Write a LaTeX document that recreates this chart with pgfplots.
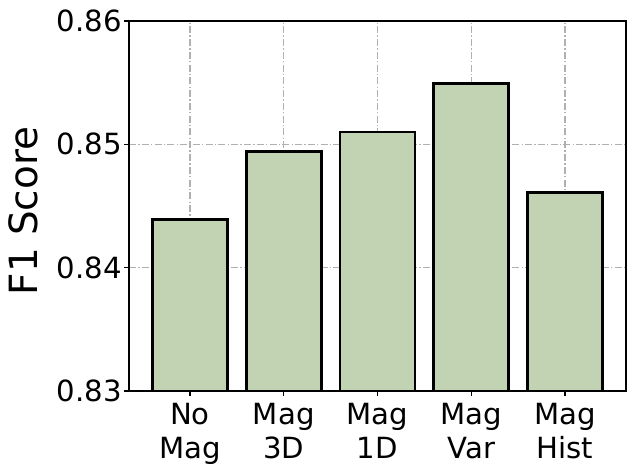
\documentclass[border=0pt]{standalone}
\usepackage{pgfplots}
\pgfplotsset{compat=1.18}
\usepackage{fontspec}
\setmainfont{DejaVu Sans}
\definecolor{barfill}{RGB}{194,211,180}
\definecolor{gridgray}{RGB}{176,176,176}
\begin{document}
\begin{tikzpicture}
\begin{axis}[
  name=ax,
  scale only axis, width=357.8pt, height=266.4pt,
  xmin=-0.65, xmax=4.65, ymin=0.83, ymax=0.86,
  ytick={0.83,0.84,0.85,0.86},
  xtick={0,1,2,3,4},
  xticklabels={No\\Mag, Mag\\3D, Mag\\1D, Mag\\Var, Mag\\Hist},
  xticklabel style={align=center, font=\fontsize{21}{24.5}\selectfont, inner sep=0pt, yshift=-5pt},
  yticklabel style={font=\fontsize{21}{24}\selectfont, inner sep=0pt, xshift=-1.6pt},
  /pgf/number format/.cd, fixed, fixed zerofill, precision=2, assume math mode=true, /pgfplots/.cd,
  scaled y ticks=false,
  tick align=outside, major tick length=3.5pt,
  tick style={black, line width=0.8pt},
  xtick pos=bottom, ytick pos=left,
  axis line style={line width=2pt, black},
  grid=major,
  grid style={gridgray, line width=0.8pt, dash pattern=on 5pt off 1.6pt on 1pt off 1.6pt},
  ylabel={F1 Score},
  ylabel style={font=\fontsize{28}{32}\selectfont, at={(rel axis cs:0,0.5)}, anchor=center, yshift=76.3pt, xshift=-3.6pt},
  ybar, bar width=0.8, bar shift=0pt,
]
\addplot[fill=barfill, draw=black, line width=2pt] coordinates {
  (0,0.8439) (1,0.8494) (2,0.8510) (3,0.8549) (4,0.8461)
};
\end{axis}
\path ([xshift=-92.9pt,yshift=-59pt]ax.south west) rectangle ([xshift=6.5pt,yshift=15.1pt]ax.north east);
\end{tikzpicture}
\end{document}
